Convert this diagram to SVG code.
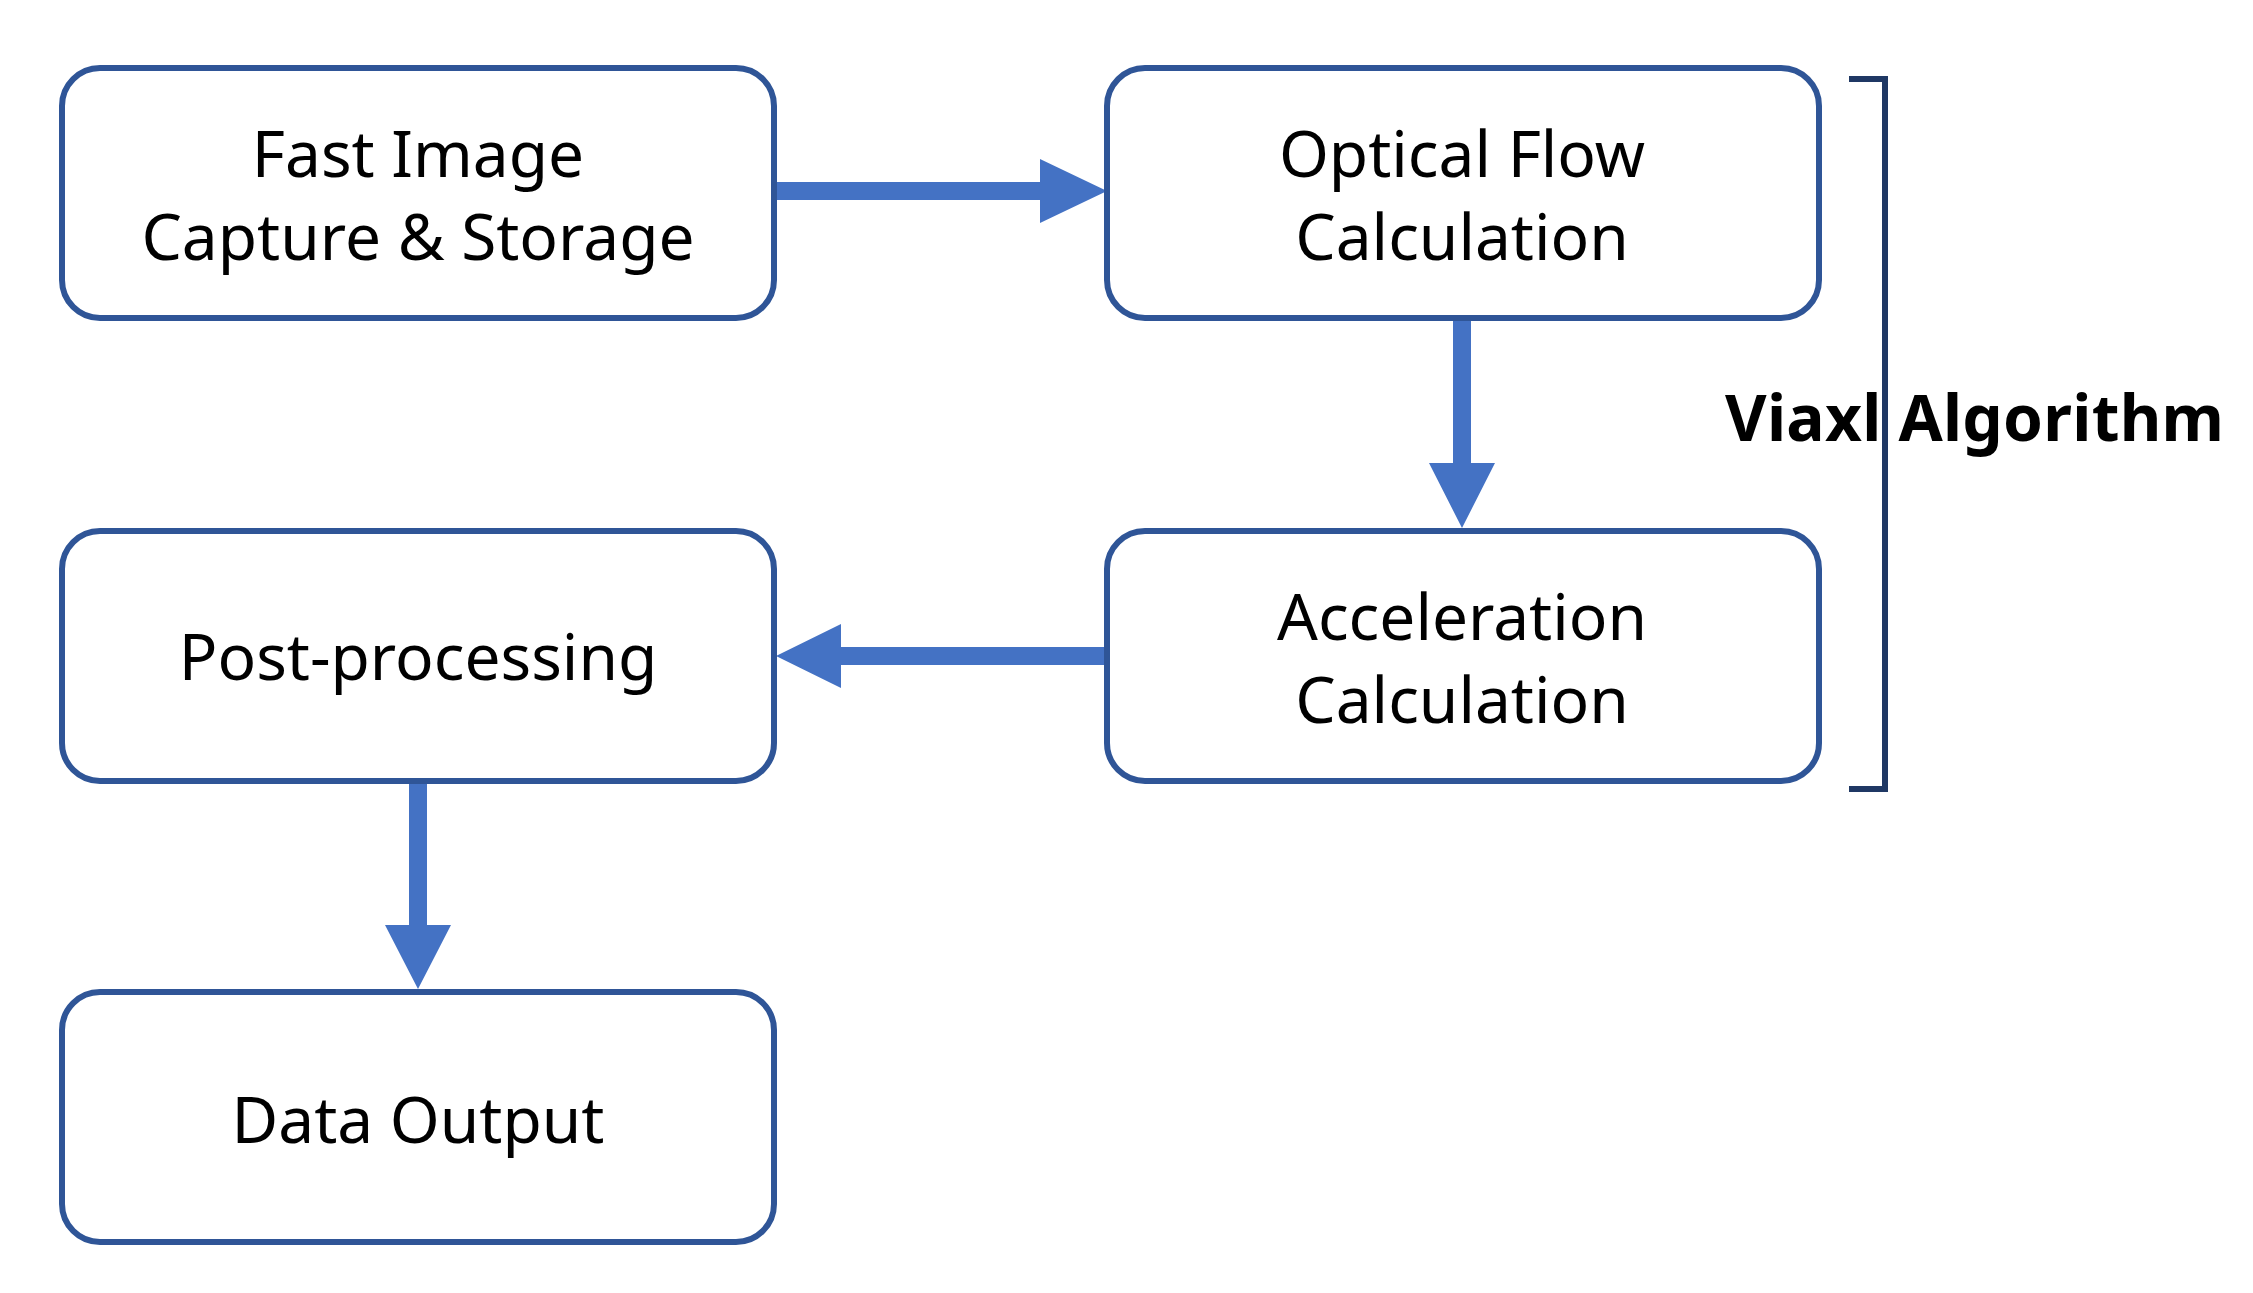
<svg xmlns="http://www.w3.org/2000/svg" width="2253" height="1293" viewBox="0 0 2253 1293">
<style>
.box{fill:#fff;stroke:#2f5597;stroke-width:6}
.t{font-family:"Noto Sans","Open Sans",sans-serif;font-size:64px;fill:#000;text-anchor:middle}
.arr{fill:#4472c4}
</style>
<rect width="2253" height="1293" fill="#fff"/>
<g id="connectors">
<polygon class="arr" points="774,182 1040,182 1040,159 1107,191 1040,223 1040,200 774,200"/>
<polygon class="arr" points="1453,318 1471,318 1471,463 1495,463 1462,528 1429,463 1453,463"/>
<polygon class="arr" points="1107,647 841,647 841,624 776,656 841,688 841,665 1107,665"/>
<polygon class="arr" points="409,781 427,781 427,925 451,925 418,989 385,925 409,925"/>
</g>
<g id="n1"><rect class="box" x="62" y="68" width="712" height="250" rx="38"/><text class="t" x="418" y="177">Fast Image</text><text class="t" x="418" y="260">Capture &amp; Storage</text></g>
<g id="n2"><rect class="box" x="1107" y="68" width="712" height="250" rx="38"/><text class="t" x="1462" y="177">Optical Flow</text><text class="t" x="1462" y="260">Calculation</text></g>
<g id="n3"><rect class="box" x="1107" y="531" width="712" height="250" rx="38"/><text class="t" x="1462" y="640">Acceleration</text><text class="t" x="1462" y="723">Calculation</text></g>
<g id="n4"><rect class="box" x="62" y="531" width="712" height="250" rx="38"/><text class="t" x="418" y="680">Post-processing</text></g>
<g id="n5"><rect class="box" x="62" y="992" width="712" height="250" rx="38"/><text class="t" x="418" y="1143">Data Output</text></g>
<g id="bracket"><polyline points="1849,79 1885,79 1885,789 1849,789" fill="none" stroke="#1f3864" stroke-width="6"/>
<text x="1725" y="441" font-family="'Noto Sans','DejaVu Sans',sans-serif" font-weight="bold" font-size="64" textLength="499">Viaxl Algorithm</text></g>
</svg>
